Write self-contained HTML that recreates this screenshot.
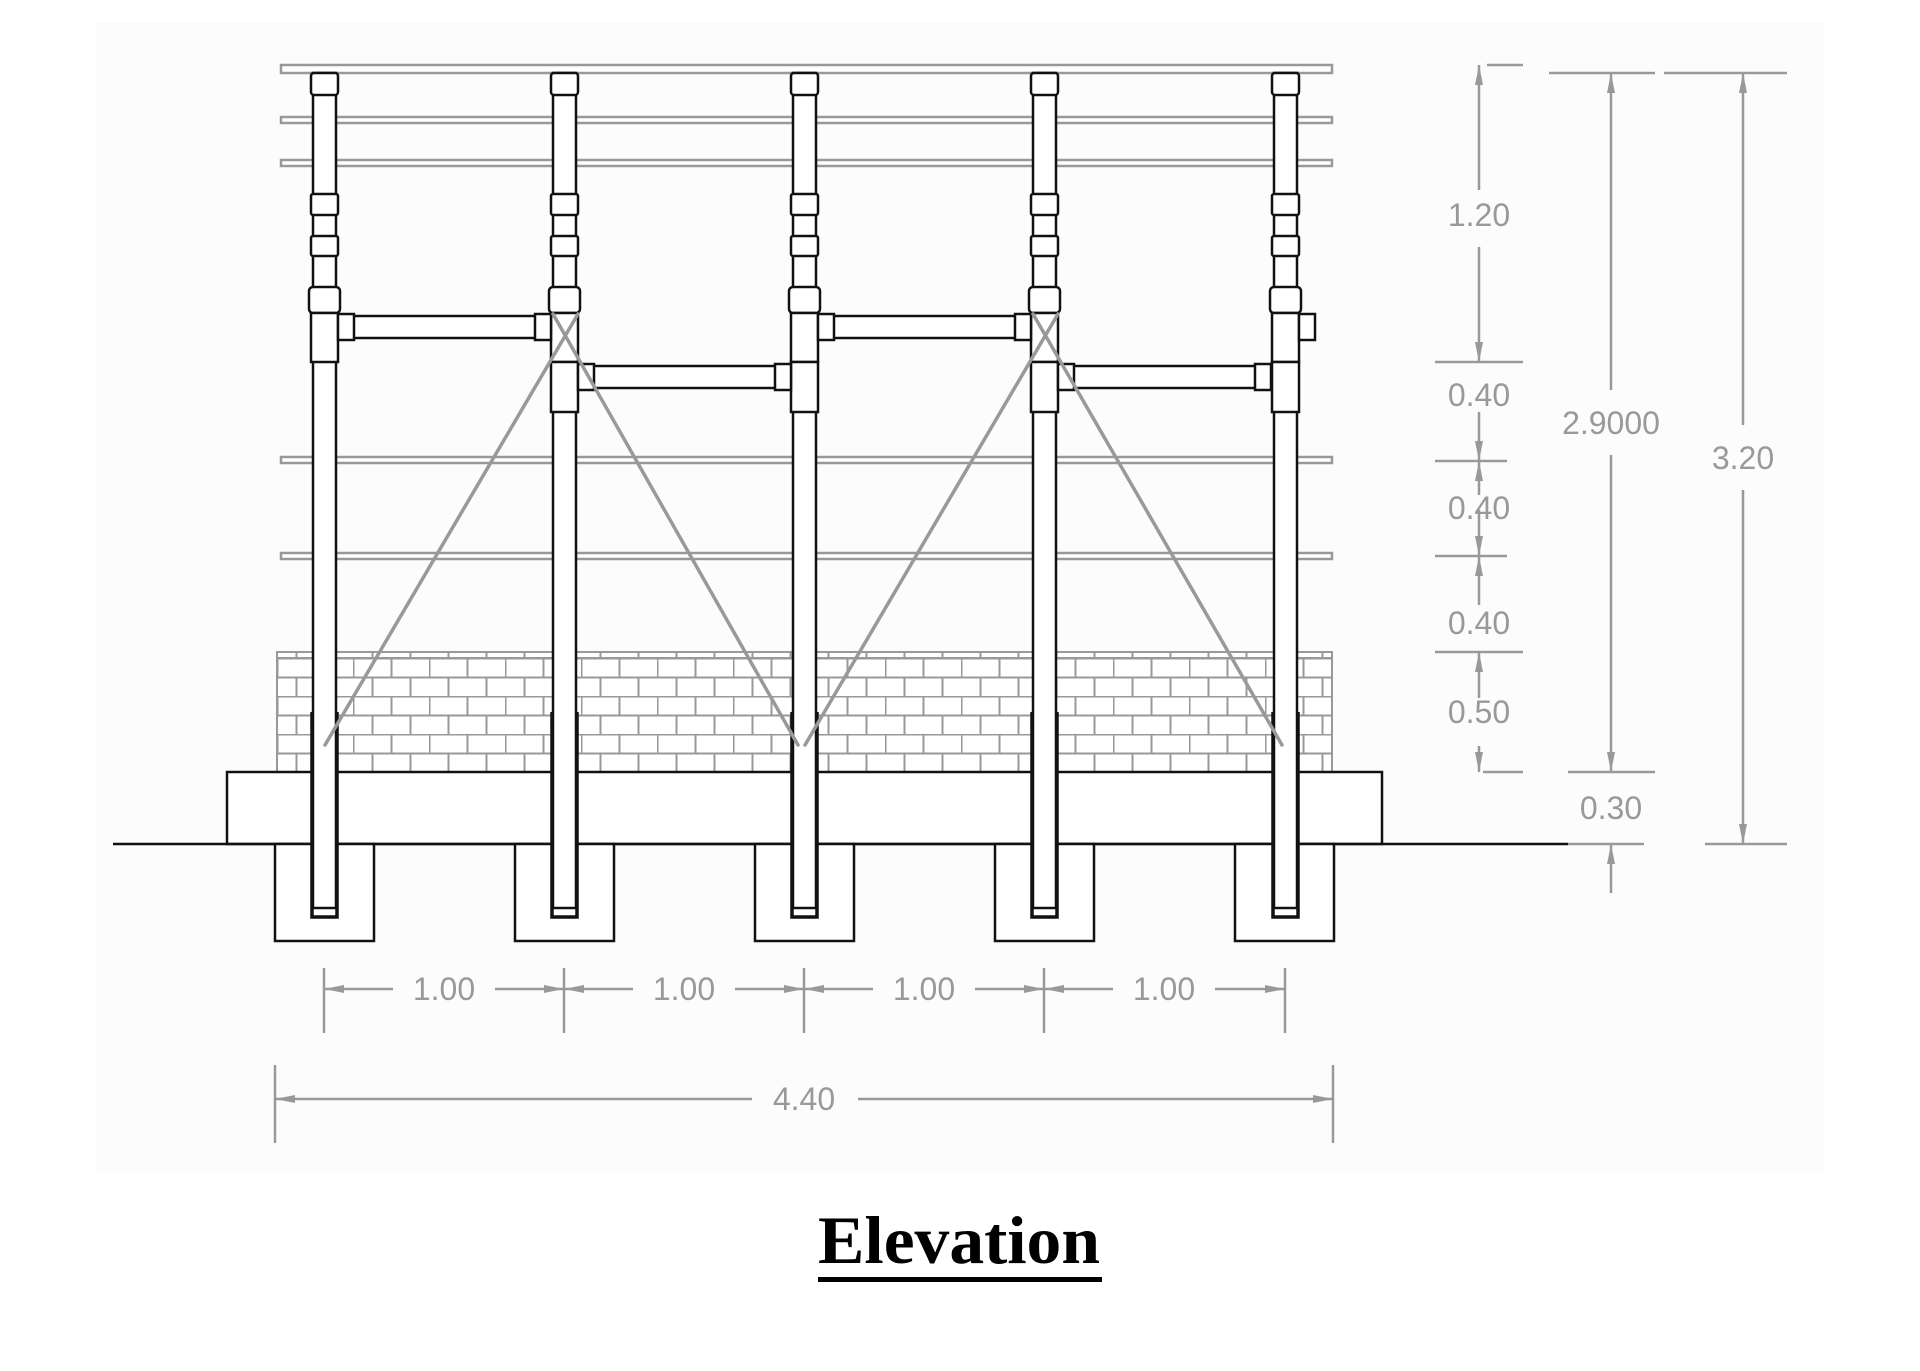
<!DOCTYPE html>
<html><head><meta charset="utf-8"><style>
html,body{margin:0;padding:0;background:#fff;width:1920px;height:1371px;overflow:hidden}
svg{display:block}
</style></head><body>
<svg width="1920" height="1371" viewBox="0 0 1920 1371" xmlns="http://www.w3.org/2000/svg">
<defs>
<marker id="ar" viewBox="0 0 20 8" refX="20" refY="4" markerWidth="20" markerHeight="8" markerUnits="userSpaceOnUse" orient="auto">
<path d="M0,0 L20,4 L0,8 Z" fill="#999"/>
</marker>
<pattern id="brick" x="277" y="658" width="76" height="38" patternUnits="userSpaceOnUse">
<rect width="76" height="38" fill="#fff"/>
<path d="M0,0.5 H76 M0,19.5 H76 M0.5,0 V19 M38.5,0 V19 M19.5,19 V38 M57.5,19 V38" stroke="#999" stroke-width="2" fill="none"/>
</pattern>
</defs>
<rect x="96" y="22" width="1728" height="1151" fill="#fcfcfc"/>

<rect x="277" y="652" width="1055" height="120" fill="url(#brick)" stroke="#999" stroke-width="2"/>
<line x1="277" y1="658" x2="1332" y2="658" stroke="#999" stroke-width="2"/>

<g fill="#fff" stroke="#999" stroke-width="2.5">
<rect x="281" y="65" width="1051" height="8"/>
<rect x="281" y="117" width="1051" height="6"/>
<rect x="281" y="160" width="1051" height="6"/>
<rect x="281" y="457" width="1051" height="6"/>
<rect x="281" y="553" width="1051" height="6"/>
</g>

<g fill="#fff" stroke="#111" stroke-width="2.5">
<rect x="227" y="772" width="1155" height="72"/>
<line x1="113" y1="844" x2="1568" y2="844"/>
<rect x="275" y="844" width="99" height="97"/>
<rect x="515" y="844" width="99" height="97"/>
<rect x="755" y="844" width="99" height="97"/>
<rect x="995" y="844" width="99" height="97"/>
<rect x="1235" y="844" width="99" height="97"/>
</g>

<g fill="#fff" stroke="#111" stroke-width="2.5">
<rect x="352" y="316" width="186" height="22"/>
<rect x="832" y="316" width="186" height="22"/>
<rect x="592" y="366" width="186" height="22"/>
<rect x="1072" y="366" width="186" height="22"/>
</g>

<g fill="#fff" stroke="#111" stroke-width="2.5">
<rect x="313" y="73" width="23" height="835"/>
<rect x="311" y="73" width="27" height="22" rx="3"/>
<rect x="311" y="194" width="27" height="21" rx="2"/>
<rect x="311" y="236" width="27" height="20" rx="2"/>
<rect x="309" y="287" width="31" height="26" rx="4"/>
<rect x="311" y="313" width="27" height="49"/>
<rect x="338" y="314" width="16" height="26"/>
<rect x="553" y="73" width="23" height="835"/>
<rect x="551" y="73" width="27" height="22" rx="3"/>
<rect x="551" y="194" width="27" height="21" rx="2"/>
<rect x="551" y="236" width="27" height="20" rx="2"/>
<rect x="549" y="287" width="31" height="26" rx="4"/>
<rect x="551" y="313" width="27" height="49"/>
<rect x="535" y="314" width="16" height="26"/>
<rect x="551" y="362" width="27" height="50"/>
<rect x="578" y="364" width="16" height="26"/>
<rect x="793" y="73" width="23" height="835"/>
<rect x="791" y="73" width="27" height="22" rx="3"/>
<rect x="791" y="194" width="27" height="21" rx="2"/>
<rect x="791" y="236" width="27" height="20" rx="2"/>
<rect x="789" y="287" width="31" height="26" rx="4"/>
<rect x="791" y="313" width="27" height="49"/>
<rect x="818" y="314" width="16" height="26"/>
<rect x="791" y="362" width="27" height="50"/>
<rect x="775" y="364" width="16" height="26"/>
<rect x="1033" y="73" width="23" height="835"/>
<rect x="1031" y="73" width="27" height="22" rx="3"/>
<rect x="1031" y="194" width="27" height="21" rx="2"/>
<rect x="1031" y="236" width="27" height="20" rx="2"/>
<rect x="1029" y="287" width="31" height="26" rx="4"/>
<rect x="1031" y="313" width="27" height="49"/>
<rect x="1015" y="314" width="16" height="26"/>
<rect x="1031" y="362" width="27" height="50"/>
<rect x="1058" y="364" width="16" height="26"/>
<rect x="1274" y="73" width="23" height="835"/>
<rect x="1272" y="73" width="27" height="22" rx="3"/>
<rect x="1272" y="194" width="27" height="21" rx="2"/>
<rect x="1272" y="236" width="27" height="20" rx="2"/>
<rect x="1270" y="287" width="31" height="26" rx="4"/>
<rect x="1272" y="313" width="27" height="49"/>
<rect x="1299" y="314" width="16" height="26"/>
<rect x="1272" y="362" width="27" height="50"/>
<rect x="1255" y="364" width="16" height="26"/>
</g>

<g fill="none" stroke="#111" stroke-width="3.5">
<path d="M312,712 V917 H337 V712"/>
<path d="M552,712 V917 H577 V712"/>
<path d="M792,712 V917 H817 V712"/>
<path d="M1032,712 V917 H1057 V712"/>
<path d="M1273,712 V917 H1298 V712"/>
</g>
<g stroke="#111" stroke-width="2">
<line x1="313" y1="908" x2="336" y2="908"/>
<line x1="553" y1="908" x2="576" y2="908"/>
<line x1="793" y1="908" x2="816" y2="908"/>
<line x1="1033" y1="908" x2="1056" y2="908"/>
<line x1="1274" y1="908" x2="1297" y2="908"/>
</g>

<g stroke="#999" stroke-width="3.5" stroke-linecap="round">
<line x1="578" y1="314" x2="325" y2="745"/>
<line x1="553" y1="314" x2="798" y2="745"/>
<line x1="1058" y1="314" x2="805" y2="745"/>
<line x1="1033" y1="314" x2="1282" y2="745"/>
</g>

<g stroke="#999" stroke-width="2.5" fill="none">
<line x1="1487" y1="65" x2="1523" y2="65"/>
<line x1="1435" y1="362" x2="1523" y2="362"/>
<line x1="1435" y1="461" x2="1507" y2="461"/>
<line x1="1435" y1="556" x2="1507" y2="556"/>
<line x1="1435" y1="652" x2="1523" y2="652"/>
<line x1="1483" y1="772" x2="1523" y2="772"/>
<line x1="1479" y1="190" x2="1479" y2="65" marker-end="url(#ar)"/>
<line x1="1479" y1="247" x2="1479" y2="362" marker-end="url(#ar)"/>
<line x1="1479" y1="412" x2="1479" y2="461" marker-end="url(#ar)"/>
<line x1="1479" y1="495" x2="1479" y2="461" marker-end="url(#ar)"/>
<line x1="1479" y1="510" x2="1479" y2="556" marker-end="url(#ar)"/>
<line x1="1479" y1="605" x2="1479" y2="556" marker-end="url(#ar)"/>
<line x1="1479" y1="698" x2="1479" y2="652" marker-end="url(#ar)"/>
<line x1="1479" y1="746" x2="1479" y2="772" marker-end="url(#ar)"/>
<line x1="1549" y1="73" x2="1655" y2="73"/>
<line x1="1568" y1="772" x2="1655" y2="772"/>
<line x1="1611" y1="390" x2="1611" y2="73" marker-end="url(#ar)"/>
<line x1="1611" y1="455" x2="1611" y2="772" marker-end="url(#ar)"/>
<line x1="1664" y1="73" x2="1787" y2="73"/>
<line x1="1705" y1="844" x2="1787" y2="844"/>
<line x1="1743" y1="425" x2="1743" y2="73" marker-end="url(#ar)"/>
<line x1="1743" y1="490" x2="1743" y2="844" marker-end="url(#ar)"/>
<line x1="1568" y1="844" x2="1644" y2="844"/>
<line x1="1611" y1="893" x2="1611" y2="844" marker-end="url(#ar)"/>
<line x1="324" y1="968" x2="324" y2="1033"/>
<line x1="564" y1="968" x2="564" y2="1033"/>
<line x1="804" y1="968" x2="804" y2="1033"/>
<line x1="1044" y1="968" x2="1044" y2="1033"/>
<line x1="1285" y1="968" x2="1285" y2="1033"/>
<line x1="393" y1="989" x2="324" y2="989" marker-end="url(#ar)"/>
<line x1="495" y1="989" x2="564" y2="989" marker-end="url(#ar)"/>
<line x1="633" y1="989" x2="564" y2="989" marker-end="url(#ar)"/>
<line x1="735" y1="989" x2="804" y2="989" marker-end="url(#ar)"/>
<line x1="873" y1="989" x2="804" y2="989" marker-end="url(#ar)"/>
<line x1="975" y1="989" x2="1044" y2="989" marker-end="url(#ar)"/>
<line x1="1113" y1="989" x2="1044" y2="989" marker-end="url(#ar)"/>
<line x1="1215" y1="989" x2="1285" y2="989" marker-end="url(#ar)"/>
<line x1="275" y1="1065" x2="275" y2="1143"/>
<line x1="1333" y1="1065" x2="1333" y2="1143"/>
<line x1="752" y1="1099" x2="275" y2="1099" marker-end="url(#ar)"/>
<line x1="858" y1="1099" x2="1333" y2="1099" marker-end="url(#ar)"/>
</g>
<g fill="#999" font-family="Liberation Sans, Arial, sans-serif" font-size="32" text-anchor="middle" dominant-baseline="central">
<text x="1479" y="215">1.20</text>
<text x="1479" y="395">0.40</text>
<text x="1479" y="508">0.40</text>
<text x="1479" y="623">0.40</text>
<text x="1479" y="712">0.50</text>
<text x="1611" y="423">2.9000</text>
<text x="1743" y="458">3.20</text>
<text x="1611" y="808">0.30</text>
<text x="444" y="989">1.00</text>
<text x="684" y="989">1.00</text>
<text x="924" y="989">1.00</text>
<text x="1164" y="989">1.00</text>
<text x="804" y="1099">4.40</text>
</g>

<text x="818" y="1263" font-family="Liberation Serif, Times New Roman, serif" font-weight="bold" font-size="68" textLength="282" lengthAdjust="spacingAndGlyphs" fill="#000">Elevation</text>
<rect x="818" y="1277" width="284" height="5" fill="#000"/>
</svg>
</body></html>
